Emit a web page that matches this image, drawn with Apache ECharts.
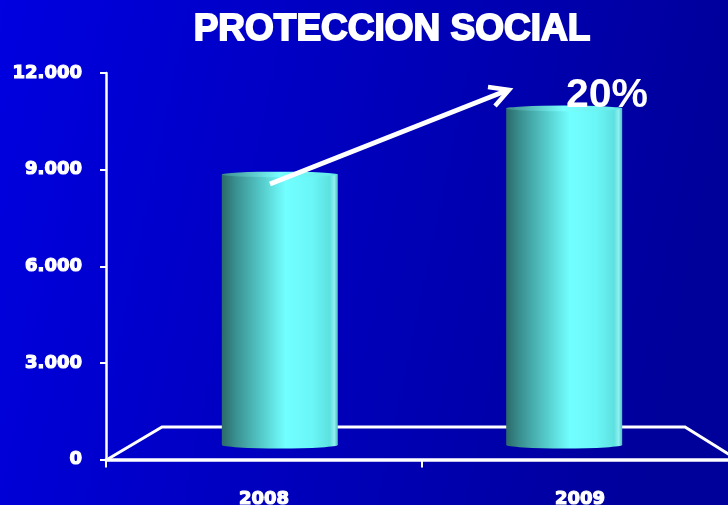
<!DOCTYPE html>
<html>
<head>
<meta charset="utf-8">
<script src="https://cdn.jsdelivr.net/npm/echarts@6/dist/echarts.min.js"></script>
<style>html,body{margin:0;padding:0;background:#0000c8;overflow:hidden;}#c{width:728px;height:505px;}</style>
</head>
<body>
<div id="c"></div>
<script>
var titleText = 'PROTECCION SOCIAL';
var categories = ['2008', '2009'];
var values = [8400, 10450];
var yTicks = [0, 3000, 6000, 9000, 12000];
var growthLabel = '20%';

function fmt(v) {
  return v === 0 ? '0' : (v / 1000).toFixed(0) + '.000';
}

var chart = echarts.init(document.getElementById('c'), null, {renderer: 'canvas'});

var bodyGrad = new echarts.graphic.LinearGradient(0, 0, 1, 0, [
  {offset: 0, color: '#2c6a6a'},
  {offset: 0.12, color: '#3a9090'},
  {offset: 0.32, color: '#52c4c4'},
  {offset: 0.55, color: '#72ffff'},
  {offset: 0.78, color: '#6af6f6'},
  {offset: 0.93, color: '#5ee0e0'},
  {offset: 0.97, color: '#8ff0f0'},
  {offset: 1, color: '#4cc0c0'}
]);

function renderCyl(params, api) {
  var idx = api.value(0);
  var v = api.value(1);
  var cs = params.coordSys;
  var mid = cs.x + cs.width / 2;
  var zero = api.coord([idx, 0]);
  var top = api.coord([idx, v]);
  var cx = zero[0] + (mid - zero[0]) * 0.1;
  var hw = 58;
  var depth = 14.5;
  var baseY = zero[1] - depth;
  var topY = top[1] - depth;
  return {
    type: 'group',
    children: [
      {type: 'circle', shape: {cx: 0, cy: 0, r: hw}, x: cx, y: baseY, scaleY: 3.5 / hw,
       style: {fill: bodyGrad}},
      {type: 'rect', shape: {x: cx - hw, y: topY, width: hw * 2, height: baseY - topY},
       style: {fill: bodyGrad}},
      {type: 'circle', shape: {cx: 0, cy: 0, r: hw}, x: cx, y: topY, scaleY: 2.8 / hw,
       style: {fill: new echarts.graphic.LinearGradient(0, 0, 1, 0, [
         {offset: 0, color: '#3c8c8c'},
         {offset: 0.5, color: '#7affff'},
         {offset: 1, color: '#62e6e6'}
       ])}}
    ]
  };
}

var labelStyle = {color: '#ffffff', fontFamily: 'DejaVu Sans', fontWeight: 'bold', fontSize: 18,
  textBorderColor: '#ffffff', textBorderWidth: 1.2};

var option = {
  backgroundColor: new echarts.graphic.LinearGradient(0, 0, 1, 0.3, [
    {offset: 0, color: '#0000e0'},
    {offset: 1, color: '#00009a'}
  ]),
  animation: false,
  grid: {left: 106, right: -10, top: 73, bottom: 45.5, containLabel: false, outerBoundsMode: 'none'},
  xAxis: {
    type: 'category',
    data: categories,
    boundaryGap: true,
    axisLine: {lineStyle: {color: '#ffffff', width: 3.5}},
    axisTick: {show: true, length: 8, lineStyle: {color: '#ffffff', width: 2}},
    axisLabel: Object.assign({margin: 31}, labelStyle)
  },
  yAxis: {
    type: 'value',
    min: 0, max: 12000, interval: 3000,
    axisLine: {show: true, lineStyle: {color: '#ffffff', width: 2.5}},
    axisTick: {show: true, length: 6, lineStyle: {color: '#ffffff', width: 2}},
    splitLine: {show: false},
    axisLabel: Object.assign({margin: 24, formatter: function (v) { return fmt(v); }}, labelStyle)
  },
  graphic: [
    {type: 'text', x: 392, y: 30, z: 10,
     style: {text: titleText, fill: '#ffffff', stroke: '#ffffff', lineWidth: 1.8,
       font: 'bold 37px "Liberation Sans", Arial, sans-serif', textAlign: 'center', textVerticalAlign: 'middle'}},
    {type: 'polyline', z: 1,
     shape: {points: [[108, 459], [162, 427], [685, 427], [738, 460]]},
     style: {stroke: '#ffffff', lineWidth: 3, fill: null}},
    {type: 'line', z: 20, shape: {x1: 270, y1: 184, x2: 508, y2: 90},
     style: {stroke: '#ffffff', lineWidth: 5, lineCap: 'butt'}},
    {type: 'polyline', z: 20, shape: {points: [[488, 87], [509, 90], [495, 106]]},
     style: {stroke: '#ffffff', lineWidth: 4.5, fill: null, lineJoin: 'miter'}},
    {type: 'text', x: 607, y: 96, z: 20,
     style: {text: growthLabel, fill: '#ffffff', font: 'bold 41px "Liberation Sans", Arial, sans-serif',
       textAlign: 'center', textVerticalAlign: 'middle'}}
  ],
  series: [{
    type: 'custom',
    renderItem: renderCyl,
    z: 5,
    data: values.map(function (v, i) { return [i, v]; })
  }]
};
chart.setOption(option);
</script>
</body>
</html>
